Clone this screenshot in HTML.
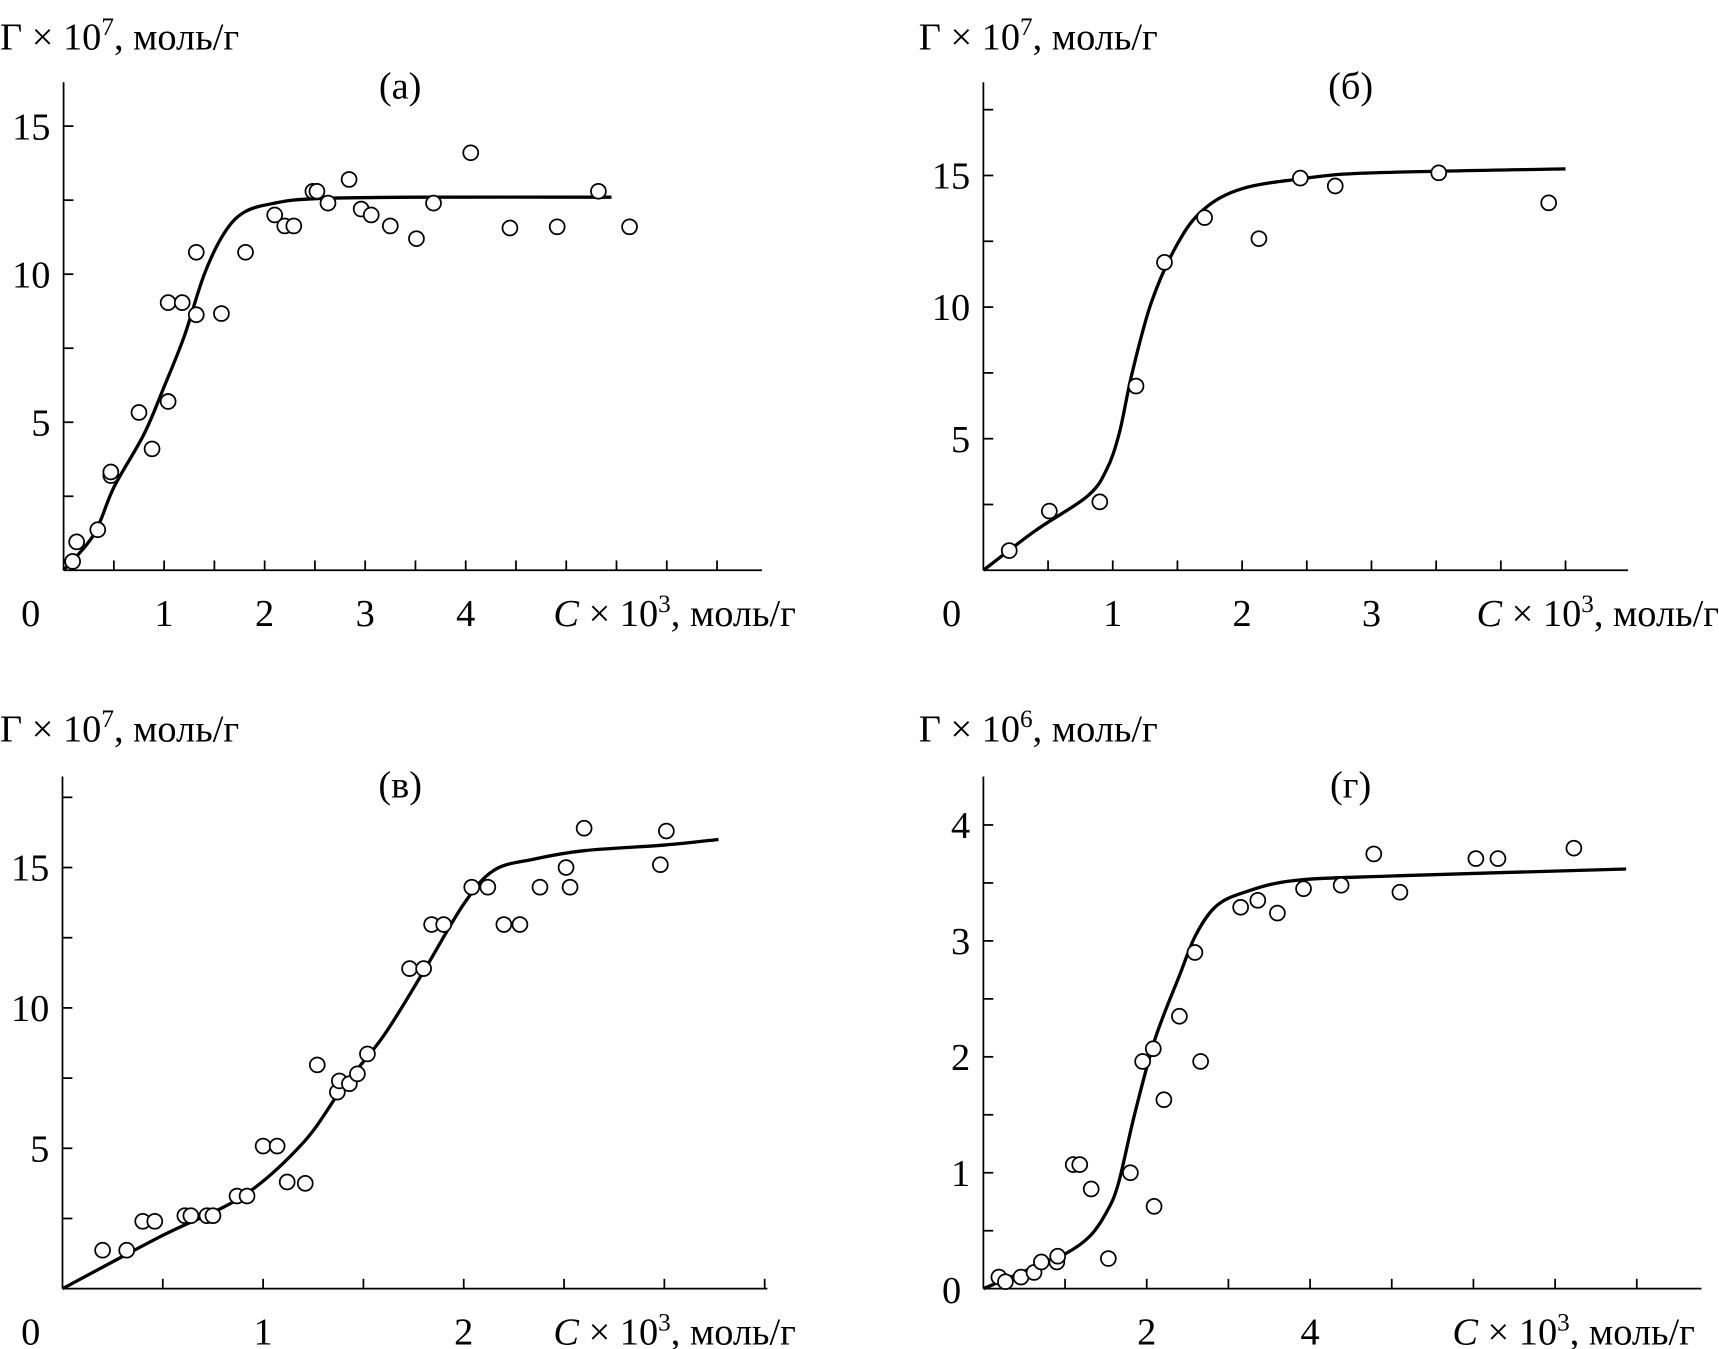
<!DOCTYPE html>
<html><head><meta charset="utf-8"><style>
html,body{margin:0;padding:0;background:#fff;}
svg{display:block;}
text{font-family:"Liberation Serif",serif;fill:#000;}
</style></head><body>
<svg id="fig" width="1719" height="1349" viewBox="0 0 1568 1230" preserveAspectRatio="none" xmlns="http://www.w3.org/2000/svg"></svg>
<script>
// Panel (а)
const aPtsX=[0.09,0.13,0.34,0.47,0.47,0.75,0.88,1.04,1.04,1.18,1.32,1.32,1.57,1.81,2.1,2.2,2.29,2.48,2.52,2.63,2.84,2.96,3.06,3.25,3.51,3.68,4.05,4.44,4.91,5.32,5.63];
const aPtsY=[0.3,0.96,1.37,3.2,3.32,5.33,4.1,5.7,9.04,9.04,10.74,8.63,8.67,10.74,12.0,11.63,11.63,12.8,12.8,12.4,13.2,12.2,12.0,11.63,11.2,12.4,14.1,11.56,11.6,12.8,11.6];
const aCurveX=[0,0.3,0.5,0.8,1.0,1.2,1.4,1.6,1.8,2.1,2.5,3.5,5.45];
const aCurveY=[0,1.2,2.8,4.6,6.2,7.9,10.0,11.4,12.1,12.4,12.55,12.6,12.6];
const aXTicks=["1","2","3","4"];
const aYTicks=["5","10","15"];
// Panel (б)
const bPtsX=[0.2,0.51,0.9,1.18,1.4,1.71,2.13,2.45,2.72,3.52,4.37];
const bPtsY=[0.75,2.25,2.6,7.0,11.7,13.4,12.6,14.9,14.6,15.1,13.96];
const bCurveX=[0,0.4,0.8,0.95,1.05,1.15,1.3,1.5,1.7,2.0,2.5,3.0,4.5];
const bCurveY=[0,1.5,2.8,3.8,5.2,7.5,10.2,12.4,13.7,14.5,14.9,15.1,15.25];
const bXTicks=["1","2","3"];
const bYTicks=["5","10","15"];
// Panel (в)
const cPtsX=[0.2,0.32,0.4,0.46,0.61,0.64,0.72,0.75,0.87,0.92,1.0,1.07,1.12,1.21,1.27,1.37,1.38,1.43,1.47,1.52,1.73,1.8,1.84,1.9,2.04,2.12,2.2,2.28,2.38,2.51,2.53,2.6,2.98,3.01];
const cPtsY=[1.37,1.37,2.4,2.4,2.6,2.6,2.6,2.6,3.3,3.3,5.08,5.08,3.8,3.75,7.97,7.0,7.4,7.3,7.65,8.36,11.4,11.4,12.97,12.97,14.3,14.3,12.97,12.97,14.3,15.0,14.3,16.4,15.1,16.3];
const cCurveX=[0,0.5,0.9,1.2,1.4,1.6,1.8,2.0,2.15,2.35,2.6,3.0,3.27];
const cCurveY=[0,1.9,3.3,5.2,7.2,9.0,11.3,13.7,14.9,15.3,15.6,15.8,16.0];
const cXTicks=["1","2"];
const cYTicks=["5","10","15"];
// Panel (г)
const dPtsX=[0.19,0.27,0.46,0.62,0.71,0.9,0.91,1.1,1.18,1.32,1.53,1.8,1.95,2.08,2.09,2.21,2.4,2.59,2.66,3.15,3.36,3.6,3.92,4.38,4.78,5.1,6.03,6.3,7.23];
const dPtsY=[0.1,0.06,0.1,0.14,0.23,0.23,0.28,1.07,1.07,0.86,0.26,1.0,1.96,2.07,0.71,1.63,2.35,2.9,1.96,3.29,3.35,3.24,3.45,3.48,3.75,3.42,3.71,3.71,3.8];
const dCurveX=[0,0.5,1.0,1.3,1.5,1.65,1.85,2.1,2.4,2.6,2.85,3.2,3.8,5,7.87];
const dCurveY=[0,0.15,0.3,0.45,0.65,0.9,1.5,2.15,2.7,3.05,3.3,3.42,3.52,3.56,3.62];
const dXTicks=["2","4"];
const dYTicks=["1","2","3","4"];

const NS="http://www.w3.org/2000/svg";
const svg=document.getElementById('fig');
const FS=35;
function mk(tag,attrs,parent){const e=document.createElementNS(NS,tag);for(const k in attrs)e.setAttribute(k,attrs[k]);(parent||svg).appendChild(e);return e;}
function txt(s,x,y,anchor,parent,size){const t=mk('text',{x:x,y:y,'text-anchor':anchor||'start','font-size':size||FS},parent);t.textContent=s;return t;}
function smooth(p){let d='M'+p[0][0]+','+p[0][1];for(let i=0;i<p.length-1;i++){const p0=p[i-1]||p[i],p1=p[i],p2=p[i+1],p3=p[i+2]||p2;const c1=[p1[0]+(p2[0]-p0[0])/6,p1[1]+(p2[1]-p0[1])/6],c2=[p2[0]-(p3[0]-p1[0])/6,p2[1]-(p3[1]-p1[1])/6];d+=' C'+c1[0]+','+c1[1]+' '+c2[0]+','+c2[1]+' '+p2[0]+','+p2[1];}return d;}

function panel(cfg){
  const g=mk('g',{});
  
  
  const X=v=>cfg.x0+v*cfg.xs, Y=v=>cfg.y0-v*cfg.ys;
  const ax=mk('g',{stroke:'#000','stroke-width':1.6,fill:'none'},g);
  
  
  mk('line',{x1:cfg.x0,y1:cfg.top,x2:cfg.x0,y2:cfg.y0},ax);
  mk('line',{x1:cfg.x0,y1:cfg.y0,x2:cfg.right,y2:cfg.y0},ax);
  for(let v=cfg.xMinor;X(v)<=cfg.right+1;v+=cfg.xMinor) mk('line',{x1:X(v),y1:cfg.y0,x2:X(v),y2:cfg.y0-9},ax);
  for(let v=cfg.yMinor;Y(v)>=cfg.top+10;v+=cfg.yMinor) mk('line',{x1:cfg.x0,y1:Y(v),x2:cfg.x0+9,y2:Y(v)},ax);
  cfg.xt.forEach(s=>{const t=txt(s,X(+s),cfg.y0+51,'middle',g);});
  cfg.yt.forEach(s=>{const t=txt(s,cfg.x0-12,Y(+s)+12,'end',g);});
  const z=txt('0',cfg.zx,cfg.zy,'middle',g);
  const yt=mk('text',{x:cfg.ytx,y:cfg.yty,'font-size':FS},g);
  
  yt.innerHTML='Г × 10<tspan dy="-13" font-size="23">'+cfg.exp+'</tspan><tspan dy="13">, моль/г</tspan>';
  const xt=mk('text',{x:cfg.xtx,y:cfg.y0+51,'font-size':FS,'text-anchor':'end'},g);
  
  xt.innerHTML='<tspan font-style="italic">C</tspan> × 10<tspan dy="-13" font-size="23">3</tspan><tspan dy="13">, моль/г</tspan>';
  const pt=txt(cfg.label,cfg.lx,cfg.ly,'middle',g);
  const pts=cfg.cx.map((v,i)=>[X(v),Y(cfg.cy[i])]);
  const c=mk('path',{d:smooth(pts),fill:'none',stroke:'#000','stroke-width':3},g);
  
  cfg.px.forEach((v,i)=>{const m=mk('circle',{cx:X(v),cy:Y(cfg.py[i]),r:6.8,fill:'#fff',stroke:'#000','stroke-width':1.6},g);
    });
}
panel({name:'panel-a',x0:58,y0:520,xs:91.7,ys:27,top:75,right:695,xMinor:0.5,yMinor:2.5,xt:aXTicks,yt:aYTicks,px:aPtsX,py:aPtsY,cx:aCurveX,cy:aCurveY,zx:28,zy:571,ytx:0,yty:45,exp:'7',xtx:726,label:'(а)',lx:365,ly:90});
panel({name:'panel-b',x0:897,y0:520,xs:118,ys:24,top:75,right:1485,xMinor:0.5,yMinor:2.5,xt:bXTicks,yt:bYTicks,px:bPtsX,py:bPtsY,cx:bCurveX,cy:bCurveY,zx:868,zy:571,ytx:838,yty:45,exp:'7',xtx:1568,label:'(б)',lx:1232,ly:90});
panel({name:'panel-v',x0:57,y0:1175,xs:183,ys:25.6,top:708,right:700,xMinor:0.5,yMinor:2.5,xt:cXTicks,yt:cYTicks,px:cPtsX,py:cPtsY,cx:cCurveX,cy:cCurveY,zx:28,zy:1226,ytx:0,yty:676,exp:'7',xtx:726,label:'(в)',lx:365,ly:727});
panel({name:'panel-g',x0:897,y0:1175,xs:74.5,ys:105.7,top:708,right:1552,xMinor:1,yMinor:0.5,xt:dXTicks,yt:dYTicks,px:dPtsX,py:dPtsY,cx:dCurveX,cy:dCurveY,zx:868,zy:1188,ytx:838,yty:676,exp:'6',xtx:1546,label:'(г)',lx:1232,ly:727});
</script>
</body></html>
